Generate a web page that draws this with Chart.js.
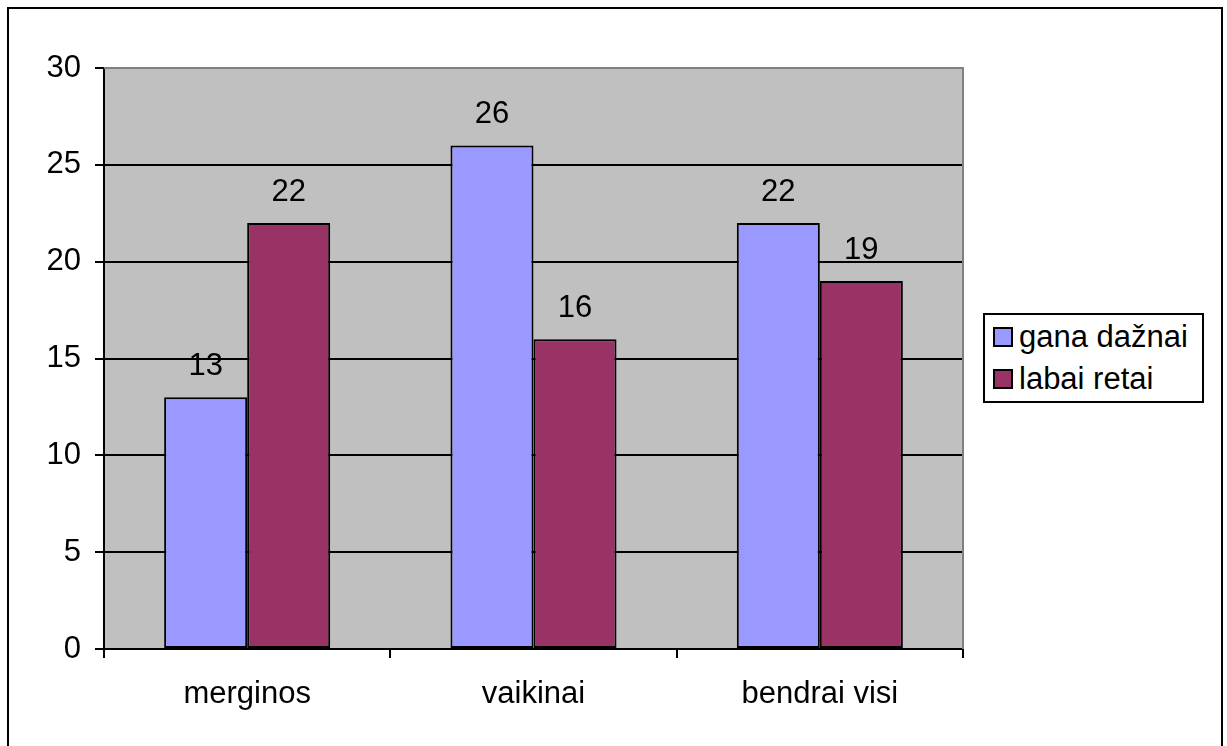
<!DOCTYPE html>
<html>
<head>
<meta charset="utf-8">
<script src="https://cdn.jsdelivr.net/npm/chart.js@4"></script>
<style>
  html, body { margin: 0; padding: 0; background: #fff; overflow: hidden; width: 1227px; height: 746px; }
  #wrap { position: relative; width: 1227px; height: 746px; }
  #frame { position: absolute; left: 7px; top: 7px; width: 1216px; height: 760px; border: 2px solid #000; box-sizing: border-box; pointer-events: none; }
  canvas { position: absolute; left: 0; top: 0; }
  #legend { position: absolute; left: 983px; top: 313px; width: 221px; height: 90px; border: 2px solid #000; box-sizing: border-box; background: #fff;
            font-family: "Liberation Sans", Arial, sans-serif; font-size: 31px; color: #000; }
  .item { position: absolute; left: 8px; height: 36px; line-height: 36px; white-space: nowrap; }
  .sw { display: inline-block; width: 16px; height: 16px; border: 2px solid #000; vertical-align: middle; margin-right: 6px; position: relative; top: -2px; }
</style>
</head>
<body>
<div id="wrap">
  <canvas id="c" width="1227" height="746"></canvas>
  <div id="frame"></div>
  <div id="legend"></div>
</div>
<script>
const categories = ["merginos", "vaikinai", "bendrai visi"];
const seriesNames = ["gana dažnai", "labai retai"];
const ganaDaznai = [13, 26, 22];
const labaiRetai = [22, 16, 19];
const yTicks = [0, 5, 10, 15, 20, 25, 30];
const colors = ["#9999FF", "#993366"];

Chart.defaults.font.family = '"Liberation Sans", Arial, sans-serif';
Chart.defaults.color = '#000';

const plotBg = {
  id: 'plotBg',
  beforeDraw(chart) {
    const a = chart.chartArea, ctx = chart.ctx;
    ctx.save();
    ctx.fillStyle = '#C0C0C0';
    ctx.fillRect(a.left, a.top, a.right - a.left, a.bottom - a.top);
    ctx.restore();
  },
  beforeDatasetsDraw(chart) {
    const a = chart.chartArea, ctx = chart.ctx;
    ctx.save();
    ctx.strokeStyle = '#808080';
    ctx.lineWidth = 2;
    ctx.beginPath();
    ctx.moveTo(a.left, a.top);
    ctx.lineTo(a.right, a.top);
    ctx.lineTo(a.right, a.bottom);
    ctx.stroke();
    ctx.restore();
  }
};

const valueLabels = {
  id: 'valueLabels',
  afterDatasetsDraw(chart) {
    const ctx = chart.ctx;
    ctx.save();
    ctx.font = '31px "Liberation Sans", Arial, sans-serif';
    ctx.fillStyle = '#000';
    ctx.textAlign = 'center';
    ctx.textBaseline = 'alphabetic';
    chart.data.datasets.forEach((ds, i) => {
      chart.getDatasetMeta(i).data.forEach((bar, j) => {
        ctx.fillText(String(ds.data[j]), bar.x, bar.y - 22);
      });
    });
    ctx.restore();
  }
};

const chart = new Chart(document.getElementById('c'), {
  type: 'bar',
  data: {
    labels: categories,
    datasets: [
      { label: seriesNames[0], data: ganaDaznai, backgroundColor: colors[0], borderColor: '#000', borderWidth: 2, borderSkipped: false },
      { label: seriesNames[1], data: labaiRetai, backgroundColor: colors[1], borderColor: '#000', borderWidth: 2, borderSkipped: false }
    ]
  },
  options: {
    responsive: false,
    animation: false,
    devicePixelRatio: 1,
    layout: { padding: { left: 0, top: 68, right: 264, bottom: 0 } },
    plugins: { legend: { display: false }, tooltip: { enabled: false } },
    datasets: { bar: { categoryPercentage: 0.58, barPercentage: 1.0 } },
    scales: {
      x: {
        afterFit(s) { s.height = 97; },
        grid: { display: true, drawOnChartArea: false, drawTicks: true, tickLength: 9, color: '#000', lineWidth: 2, offset: true },
        border: { display: true, color: '#000', width: 2 },
        ticks: { font: { size: 31 }, color: '#000', padding: 18 }
      },
      y: {
        min: 0, max: 30,
        afterFit(s) { s.width = 104; },
        afterBuildTicks(s) { s.ticks = yTicks.map(v => ({ value: v })); },
        grid: {
          drawTicks: true, tickLength: 9, lineWidth: 2, tickColor: '#000',
          color: (c) => (c.tick && c.tick.value === 30) ? '#808080' : '#000'
        },
        border: { display: true, color: '#000', width: 2 },
        ticks: { font: { size: 31 }, color: '#000', padding: 14 }
      }
    }
  },
  plugins: [plotBg, valueLabels]
});

const lg = document.getElementById('legend');
seriesNames.forEach((n, i) => {
  const d = document.createElement('div');
  d.className = 'item';
  d.style.top = (4 + i * 42) + 'px';
  const sw = document.createElement('span');
  sw.className = 'sw';
  sw.style.background = colors[i];
  d.appendChild(sw);
  d.appendChild(document.createTextNode(n));
  lg.appendChild(d);
});
</script>
</body>
</html>
